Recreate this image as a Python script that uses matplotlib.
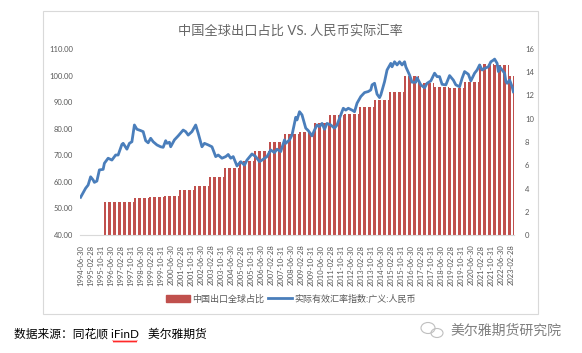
import numpy as np
import pandas as pd
import matplotlib
matplotlib.use("Agg")
import matplotlib.pyplot as plt
from matplotlib.patches import Rectangle, Ellipse
from matplotlib.lines import Line2D

plt.rcParams['font.family'] = ['Lato', 'Noto Sans CJK SC', 'DejaVu Sans']

# monthly category axis
months = pd.period_range("1994-06", "2023-04", freq="M")

# 中国出口全球占比 (%), annual value held for every month of the year
bar_years = list(range(1996, 2024))
bar_values = [2.86, 2.80, 3.21, 3.27, 3.33, 3.87, 4.24, 4.99, 5.78, 6.40,
              7.25, 8.02, 8.68, 8.86, 9.60, 10.30, 10.38, 11.03, 11.60, 12.32,
              13.70, 13.04, 12.75, 12.67, 13.13, 14.68, 14.62, 13.70]

# 实际有效汇率指数:广义:人民币, month offset from 1994-06 and value
line_month = [0, 4, 6, 8, 10, 11, 13, 15, 18, 19, 22, 25, 28, 30, 33, 34, 37, 39, 41, 43,
              45, 48, 50, 52, 54, 56, 58, 61, 64, 66, 68, 69, 71, 72, 75, 78, 82, 84, 86, 89,
              92, 94, 97, 99, 102, 105, 108, 110, 113, 116, 118, 120, 122, 125, 128, 131, 133, 137, 140, 143,
              145, 149, 152, 155, 157, 160, 163, 164, 167, 169, 172, 173, 175, 177, 180, 182, 185, 187, 189, 191,
              193, 195, 197, 200, 203, 205, 208, 210, 212, 214, 217, 219, 221, 224, 227, 230, 232, 233, 235, 237,
              239, 240, 243, 245, 248, 249, 251, 253, 255, 257, 259, 260, 263, 265, 268, 269, 272, 275, 277, 280,
              283, 285, 287, 289, 292, 295, 298, 300, 303, 305, 307, 310, 312, 315, 317, 319, 321, 323, 326, 328,
              330, 331, 333, 334, 335, 337, 339, 340, 341, 343, 345, 346]
line_values = [54.2, 57.6, 58.8, 61.9, 60.7, 59.8, 60.3, 64.5, 64.7, 67.0, 68.9, 68.2, 70.1, 70.1, 74.1, 74.5, 72.3, 74.5, 75.1, 81.4,
               79.8, 79.3, 78.9, 75.5, 74.7, 76.4, 75.1, 73.9, 73.2, 73.0, 75.5, 74.5, 74.9, 73.2, 75.8, 77.3, 79.5, 78.9, 77.6, 78.9,
               81.4, 78.3, 73.2, 74.5, 73.9, 73.2, 69.5, 70.1, 68.9, 69.5, 70.3, 68.9, 69.5, 66.0, 67.6, 66.3, 68.2, 70.5, 69.5, 67.6,
               68.2, 69.5, 72.0, 71.0, 72.3, 71.4, 75.8, 74.5, 75.8, 77.6, 84.3, 83.3, 86.4, 85.2, 80.2, 79.3, 77.3, 79.5, 81.4, 80.8,
               82.0, 79.8, 82.0, 81.4, 80.2, 81.4, 85.2, 87.7, 87.0, 87.7, 87.0, 86.4, 89.6, 92.1, 93.6, 94.0, 94.6, 96.5, 97.1, 93.0,
               91.7, 92.7, 97.7, 102.1, 104.6, 103.3, 105.2, 104.0, 105.2, 104.0, 105.2, 103.3, 100.2, 97.5, 97.5, 99.2, 96.5, 95.4, 97.1, 98.0,
               100.9, 99.6, 99.6, 96.7, 96.5, 100.0, 98.3, 96.5, 95.8, 99.0, 101.5, 100.5, 98.0, 100.9, 102.1, 104.0, 102.1, 102.7, 103.3, 105.2,
               105.8, 106.2, 104.6, 101.5, 103.3, 102.1, 100.9, 97.7, 97.1, 98.3, 95.8, 93.9]

title = "中国全球出口占比 VS. 人民币实际汇率"
bar_label = "中国出口全球占比"
line_label = "实际有效汇率指数:广义:人民币"

year_val = dict(zip(bar_years, bar_values))
bar_heights = [year_val.get(p.year, 0) for p in months]
x = np.arange(len(months))
tick_idx = x[::8]
tick_labels = [months[i].end_time.strftime("%Y-%m-%d") for i in tick_idx]

red = "#C0504D"
blue = "#4A7EBB"
gray = "#595959"

W, H = 582, 353
fig = plt.figure(figsize=(W / 100, H / 100), dpi=100)
ax = fig.add_axes([80 / W, 1 - 235 / H, (514 - 80) / W, (235 - 49) / H])
ax2 = ax.twinx()

ax2.bar(x, bar_heights, width=0.6, color=red, linewidth=0)
ax.plot(line_month, line_values, color=blue, lw=2.0, solid_joinstyle="round")

ax.set_zorder(ax2.get_zorder() + 1)
ax.patch.set_visible(False)

ax.set_xlim(-0.5, len(months) - 0.5)
ax.set_ylim(40, 110)
ax.set_yticks(np.arange(40, 111, 10))
ax.set_yticklabels([f"{v:.2f}" for v in np.arange(40, 111, 10)])
ax2.set_ylim(0, 16)
ax2.set_yticks(np.arange(0, 17, 2))

ax.set_xticks(tick_idx)
ax.set_xticklabels(tick_labels, rotation=90)

for a in (ax, ax2):
    for s in a.spines.values():
        s.set_visible(False)
    a.tick_params(length=0, labelsize=5.5, labelcolor=gray)
ax.spines["bottom"].set_visible(True)
ax.spines["bottom"].set_color("#D9D9D9")
ax.tick_params(axis="y", pad=5)
ax2.tick_params(axis="y", pad=8)
ax.tick_params(axis="x", pad=7)

fig.text(290 / W, 1 - 30 / H, title, ha="center", va="center",
         fontsize=9.5, color="#666666")

handles = [Rectangle((0, 0), 1, 1, color=red),
           Line2D([0], [0], color=blue, lw=2)]
fig.legend(handles, [bar_label, line_label], loc="center",
           bbox_to_anchor=(291 / W, 1 - 299 / H), ncol=2, frameon=False,
           fontsize=6.5, labelcolor=gray, handlelength=2.6, handleheight=0.8,
           handletextpad=0.3, columnspacing=0.4)

# chart frame
fig.add_artist(Rectangle((43 / W, 1 - 314 / H), (538 - 43) / W, (314 - 11) / H,
                         transform=fig.transFigure, fill=False,
                         ec="#D9D9D9", lw=0.8))

# source note
fig.text(14 / W, 1 - 334 / H, "数据来源：同花顺 iFinD   美尔雅期货", ha="left",
         va="center", fontsize=8.5, color="black")
wx = np.linspace(113, 137, 25)
wy = 341.5 + np.where(np.arange(25) % 2 == 0, -0.8, 0.8)
fig.add_artist(Line2D(wx / W, 1 - wy / H, color="red", lw=0.6,
                      transform=fig.transFigure))

# watermark
fig.add_artist(Ellipse((428 / W, 1 - 328 / H), 14 / W, 11 / H,
                       transform=fig.transFigure, fill=False, ec="#BFBFBF", lw=0.8))
fig.add_artist(Ellipse((437 / W, 1 - 333 / H), 12 / W, 9 / H,
                       transform=fig.transFigure, fill=False, ec="#BFBFBF", lw=0.8))
fig.text(450 / W, 1 - 330 / H, "美尔雅期货研究院", ha="left", va="center",
         fontsize=10, color="#7F7F7F")

fig.savefig("out.png", dpi=100, facecolor="white")
